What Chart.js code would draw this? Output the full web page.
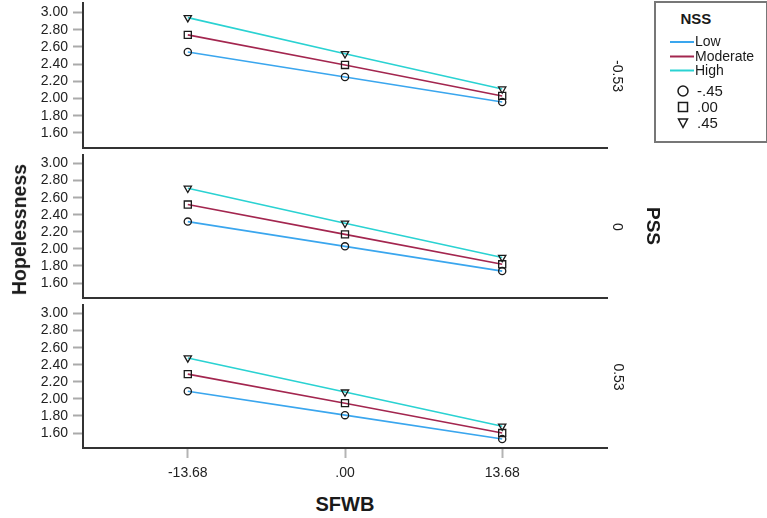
<!DOCTYPE html>
<html>
<head>
<meta charset="utf-8">
<script src="https://cdn.jsdelivr.net/npm/chart.js@4/dist/chart.umd.min.js"></script>
<style>
  html, body { margin: 0; padding: 0; background: #fff; }
  #root { position: relative; width: 767px; height: 518px; overflow: hidden; font-family: "Liberation Sans", Arial, sans-serif; color: #1a1a1a; }
  .lbl { position: absolute; white-space: nowrap; transform-origin: center; }
  #legend { position: absolute; left: 654px; top: 1px; width: 110px; height: 138px; border: 2px solid #777; box-sizing: content-box; }
</style>
</head>
<body>
<div id="root"></div>
<script>
// x positions (SFWB) and their printed labels
const xValues = [-13.68, 0, 13.68];
const xLabels = ['-13.68', '.00', '13.68'];
const yTicks = [1.6, 1.8, 2.0, 2.2, 2.4, 2.6, 2.8, 3.0];

// one panel per PSS level, top to bottom
const pssLevels = ['-0.53', '0', '0.53'];
const nssNames = ['Low', 'Moderate', 'High'];
const nssValues = ['-.45', '.00', '.45'];

// Hopelessness, [panel][x]
const lowByPanel = [
  [2.54, 2.25, 1.96],
  [2.32, 2.03, 1.74],
  [2.09, 1.81, 1.53]
];
const moderateByPanel = [
  [2.74, 2.39, 2.03],
  [2.52, 2.17, 1.82],
  [2.29, 1.95, 1.60]
];
const highByPanel = [
  [2.94, 2.52, 2.11],
  [2.71, 2.30, 1.90],
  [2.48, 2.08, 1.68]
];

const lineColors = ['#3aa6ee', '#a3264f', '#2ad2d2'];
const pointStyles = ['circle', 'rect', 'triangle'];
const pointRadii = [3.6, 5, 4.2];

const panelLayout = [
  { top: 0,   height: 160, padTop: 3, xHeight: 12, showX: false, yMax: 3.11 },
  { top: 150, height: 160, padTop: 5, xHeight: 12, showX: false, yMax: 3.1 },
  { top: 300, height: 190, padTop: 5, xHeight: 42, showX: true,  yMax: 3.1 }
];

Chart.defaults.font.family = '"Liberation Sans", Arial, sans-serif';
Chart.defaults.color = '#222';

const root = document.getElementById('root');

// drop the label padding chart.js adds so the plot box lands where we want it
function noPad(s){
  s.paddingTop = 0; s.paddingBottom = 0; s.paddingLeft = 0; s.paddingRight = 0;
}

function makePanel(i){
  const p = panelLayout[i];
  const cv = document.createElement('canvas');
  cv.width = 622; cv.height = p.height;
  cv.style.cssText = 'position:absolute;left:0;top:' + p.top + 'px';
  root.appendChild(cv);

  const series = [lowByPanel[i], moderateByPanel[i], highByPanel[i]];
  const datasets = series.map(function(vals, k){
    return {
      label: nssNames[k],
      data: vals.map(function(v, j){ return { x: xValues[j], y: v }; }),
      borderColor: lineColors[k],
      borderWidth: 1.6,
      tension: 0,
      pointStyle: pointStyles[k],
      pointRadius: pointRadii[k],
      pointRotation: k === 2 ? 180 : 0,
      pointBorderColor: '#1a1a1a',
      pointBorderWidth: 1.3,
      pointBackgroundColor: 'rgba(0,0,0,0)'
    };
  });

  new Chart(cv, {
    type: 'line',
    data: { datasets: datasets },
    options: {
      responsive: false,
      animation: false,
      events: [],
      layout: { autoPadding: false, padding: { top: p.padTop, right: 15, left: 0, bottom: 0 } },
      plugins: { legend: { display: false }, tooltip: { enabled: false } },
      scales: {
        x: {
          type: 'linear', min: -22.8, max: 22.8,
          afterBuildTicks: function(s){ s.ticks = xValues.map(function(v){ return { value: v }; }); },
          afterFit: function(s){ s.height = p.xHeight; noPad(s); },
          grid: { display: p.showX, drawOnChartArea: false, tickLength: 10, tickColor: '#b4b4b4', tickWidth: 2 },
          border: { display: true, color: '#333', width: 2 },
          ticks: {
            display: p.showX, autoSkip: false, maxRotation: 0, padding: 7, color: '#222', font: { size: 14 },
            callback: function(v){ return xLabels[xValues.indexOf(v)]; }
          }
        },
        y: {
          min: 1.425, max: p.yMax,
          afterBuildTicks: function(s){ s.ticks = yTicks.map(function(v){ return { value: v }; }); },
          afterFit: function(s){ s.width = 83; noPad(s); },
          grid: { drawOnChartArea: false, tickLength: 10, tickColor: '#aaa', tickWidth: 2 },
          border: { color: '#333', width: 2 },
          ticks: { autoSkip: false, padding: 5, color: '#222', font: { size: 14 }, callback: function(v){ return v.toFixed(2); } }
        }
      }
    }
  });
}

for(let i = 0; i < pssLevels.length; i++) makePanel(i);

function addLabel(text, cx, cy, css, rot){
  const d = document.createElement('div');
  d.className = 'lbl';
  d.textContent = text;
  d.style.cssText += css;
  root.appendChild(d);
  const w = d.offsetWidth, h = d.offsetHeight;
  d.style.left = (cx - w / 2) + 'px';
  d.style.top = (cy - h / 2) + 'px';
  if(rot) d.style.transform = 'rotate(' + rot + 'deg)';
  return d;
}

// axis titles
addLabel('Hopelessness', 19.5, 229, 'font-size:19.5px;font-weight:bold;', -90);
addLabel('SFWB', 345, 504, 'font-size:20px;font-weight:bold;');
addLabel('PSS', 652.5, 226, 'font-size:19px;font-weight:bold;', 90);

// panel (PSS level) labels on the right
const pssCentres = [75.5, 227, 377];
pssLevels.forEach(function(t, i){ addLabel(t, 618, pssCentres[i], 'font-size:14px;', 90); });

// legend
const lg = document.createElement('div');
lg.id = 'legend';
root.appendChild(lg);
addLabel('NSS', 696, 18.5, 'font-size:15px;font-weight:bold;');

const svgNS = 'http://www.w3.org/2000/svg';
const svg = document.createElementNS(svgNS, 'svg');
svg.setAttribute('width', '767'); svg.setAttribute('height', '518');
svg.style.cssText = 'position:absolute;left:0;top:0;pointer-events:none';
root.appendChild(svg);
function svgEl(tag, attrs){
  const e = document.createElementNS(svgNS, tag);
  for(const k in attrs) e.setAttribute(k, attrs[k]);
  svg.appendChild(e);
  return e;
}
const lineRows = [42, 56.5, 70.5];
nssNames.forEach(function(name, k){
  svgEl('line', { x1: 670, y1: lineRows[k], x2: 694, y2: lineRows[k], stroke: lineColors[k], 'stroke-width': 2 });
  const t = document.createElement('div');
  t.className = 'lbl';
  t.textContent = name;
  t.style.cssText += 'font-size:14px;left:695px;top:' + (lineRows[k] - 9) + 'px;';
  root.appendChild(t);
});
const markRows = [91, 107, 123];
svgEl('circle', { cx: 683, cy: markRows[0], r: 5, fill: 'none', stroke: '#1a1a1a', 'stroke-width': 1.5 });
svgEl('rect', { x: 678.5, y: markRows[1] - 4.5, width: 9, height: 9, fill: 'none', stroke: '#1a1a1a', 'stroke-width': 1.5 });
svgEl('polygon', { points: '678.5,' + (markRows[2] - 4) + ' 687.5,' + (markRows[2] - 4) + ' 683,' + (markRows[2] + 4.5), fill: 'none', stroke: '#1a1a1a', 'stroke-width': 1.5 });
nssValues.forEach(function(v, k){
  const t = document.createElement('div');
  t.className = 'lbl';
  t.textContent = v;
  t.style.cssText += 'font-size:15px;left:697px;top:' + (markRows[k] - 9.5) + 'px;';
  root.appendChild(t);
});
</script>
</body>
</html>
